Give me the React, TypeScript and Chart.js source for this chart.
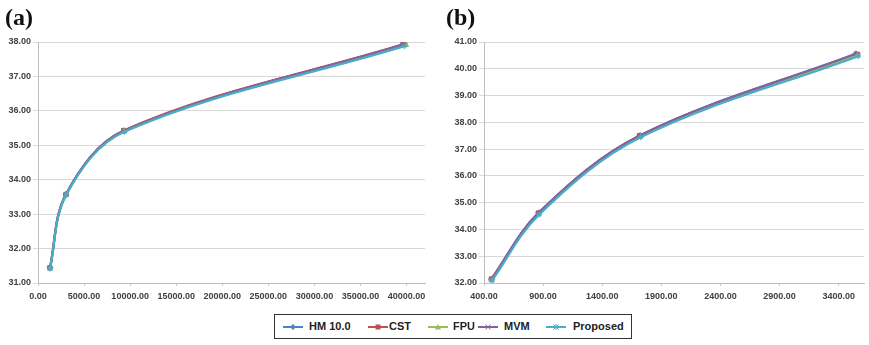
import React, { useEffect, useRef } from "react";
import { Chart, registerables } from "chart.js";

Chart.register(...registerables);

// ---------- data ----------
const seriesNames = ["HM 10.0", "CST", "FPU", "MVM", "Proposed"];
const seriesColors = ["#4F81BD", "#C0504D", "#9BBB59", "#8064A2", "#4BACC6"];
const seriesMarkers = ["rectRot", "rect", "triangle", "crossRot", "star"];

// panel (a): bitrate (x) / PSNR (y)
const aHM_x = [1300, 3040, 9350, 39780];
const aHM_y = [31.44, 33.58, 35.42, 37.94];
const aCST_x = [1290, 3030, 9300, 39600];
const aCST_y = [31.44, 33.57, 35.43, 37.93];
const aFPU_x = [1310, 3050, 9380, 39950];
const aFPU_y = [31.43, 33.56, 35.41, 37.91];
const aMVM_x = [1300, 3040, 9350, 39780];
const aMVM_y = [31.44, 33.58, 35.42, 37.93];
const aPro_x = [1305, 3045, 9360, 39750];
const aPro_y = [31.42, 33.55, 35.39, 37.88];

// panel (b)
const bHM_x = [464, 862, 1720, 3545];
const bHM_y = [32.14, 34.62, 37.51, 40.56];
const bCST_x = [462, 860, 1715, 3560];
const bCST_y = [32.15, 34.61, 37.5, 40.54];
const bFPU_x = [464, 862, 1722, 3555];
const bFPU_y = [32.12, 34.58, 37.47, 40.5];
const bMVM_x = [464, 862, 1720, 3545];
const bMVM_y = [32.14, 34.62, 37.51, 40.56];
const bPro_x = [466, 866, 1725, 3565];
const bPro_y = [32.08, 34.55, 37.44, 40.47];

const aXTicks = [0, 5000, 10000, 15000, 20000, 25000, 30000, 35000, 40000];
const aYTicks = [31, 32, 33, 34, 35, 36, 37, 38];
const bXTicks = [400, 900, 1400, 1900, 2400, 2900, 3400];
const bYTicks = [32, 33, 34, 35, 36, 37, 38, 39, 40, 41];

const aSeries = [
  [aHM_x, aHM_y],
  [aCST_x, aCST_y],
  [aFPU_x, aFPU_y],
  [aMVM_x, aMVM_y],
  [aPro_x, aPro_y],
];
const bSeries = [
  [bHM_x, bHM_y],
  [bCST_x, bCST_y],
  [bFPU_x, bFPU_y],
  [bMVM_x, bMVM_y],
  [bPro_x, bPro_y],
];

const tickFont = { family: "'Liberation Sans', Arial, sans-serif", size: 9, weight: "bold" as const };

function buildConfig(
  series: number[][][],
  xTicks: number[],
  yTicks: number[],
  xMin: number,
  xMax: number,
  yAxisWidth: number,
  xDecimals: number,
  padRight: number
) {
  const datasets = series.map(([xs, ys], i) => ({
    label: seriesNames[i],
    data: xs.map((x, j) => ({ x, y: ys[j] })),
    showLine: true,
    borderColor: seriesColors[i],
    backgroundColor: seriesColors[i],
    borderWidth: 2.2,
    pointStyle: seriesMarkers[i],
    pointRadius: 3,
    pointBorderColor: seriesColors[i],
    pointBackgroundColor: seriesColors[i],
    pointBorderWidth: 1,
    tension: 0.35,
    order: series.length - i,
  }));
  return {
    type: "scatter" as const,
    data: { datasets },
    options: {
      animation: false,
      responsive: false,
      maintainAspectRatio: false,
      layout: { padding: { top: 42, left: 0, right: padRight, bottom: 0 } },
      plugins: { legend: { display: false }, tooltip: { enabled: false } },
      scales: {
        x: {
          type: "linear",
          min: xMin,
          max: xMax,
          afterBuildTicks: (scale: any) => {
            scale.ticks = xTicks.map((v) => ({ value: v }));
          },
          afterFit: (scale: any) => {
            scale.height = 27;
          },
          ticks: {
            font: tickFont,
            color: "#404040",
            padding: 5,
            maxRotation: 0,
            autoSkip: false,
            callback: (v: any) => Number(v).toFixed(xDecimals),
          },
          grid: { display: true, drawOnChartArea: false, drawTicks: true, tickLength: 3, color: "#c8c8c8" },
          border: { display: true, color: "#bfbfbf", width: 1 },
        },
        y: {
          type: "linear",
          min: yTicks[0],
          max: yTicks[yTicks.length - 1],
          afterBuildTicks: (scale: any) => {
            scale.ticks = yTicks.map((v) => ({ value: v }));
          },
          afterFit: (scale: any) => {
            scale.width = yAxisWidth;
          },
          ticks: {
            font: tickFont,
            color: "#404040",
            padding: 2,
            autoSkip: false,
            callback: (v: any) => Number(v).toFixed(2),
          },
          grid: { color: "#d9d9d9", lineWidth: 1, tickLength: 5, drawTicks: true },
          border: { display: true, color: "#bfbfbf", width: 1 },
        },
      },
    },
  };
}

function Panel(props: { config: any; left: number; width: number; height: number }) {
  const ref = useRef<HTMLCanvasElement | null>(null);
  useEffect(() => {
    if (!ref.current) return;
    const chart = new Chart(ref.current, props.config);
    return () => chart.destroy();
  }, []);
  return (
    <canvas
      ref={ref}
      width={props.width}
      height={props.height}
      style={{ position: "absolute", left: props.left, top: 0, width: props.width, height: props.height }}
    />
  );
}

function Marker(props: { kind: string; color: string }) {
  const c = props.color;
  const cx = 10;
  const cy = 5;
  let shape: any = null;
  if (props.kind === "rectRot") shape = <polygon points={`${cx},${cy - 3} ${cx + 3},${cy} ${cx},${cy + 3} ${cx - 3},${cy}`} fill={c} />;
  else if (props.kind === "rect") shape = <rect x={cx - 2.5} y={cy - 2.5} width={5} height={5} fill={c} />;
  else if (props.kind === "triangle") shape = <polygon points={`${cx},${cy - 3} ${cx + 3},${cy + 2.5} ${cx - 3},${cy + 2.5}`} fill={c} />;
  else if (props.kind === "crossRot")
    shape = (
      <g stroke={c} strokeWidth={1}>
        <line x1={cx - 2.5} y1={cy - 2.5} x2={cx + 2.5} y2={cy + 2.5} />
        <line x1={cx - 2.5} y1={cy + 2.5} x2={cx + 2.5} y2={cy - 2.5} />
      </g>
    );
  else
    shape = (
      <g stroke={c} strokeWidth={1}>
        <line x1={cx - 2.5} y1={cy - 2.5} x2={cx + 2.5} y2={cy + 2.5} />
        <line x1={cx - 2.5} y1={cy + 2.5} x2={cx + 2.5} y2={cy - 2.5} />
        <line x1={cx} y1={cy - 3} x2={cx} y2={cy + 3} />
      </g>
    );
  return (
    <svg width={20} height={10} style={{ position: "absolute", left: 0, top: 7 }}>
      <line x1={0} y1={5} x2={20} y2={5} stroke={c} strokeWidth={2} />
      {shape}
    </svg>
  );
}

const legendLineX = [8, 93, 153, 203, 271];
const legendTextX = [34, 114, 178, 229, 298];

export default function App() {
  const cfgA = buildConfig(aSeries, aXTicks, aYTicks, 0, 42000, 38, 2, 7);
  const cfgB = buildConfig(bSeries, bXTicks, bYTicks, 400, 3614, 44, 2, 0);
  return (
    <div
      style={{
        position: "fixed",
        left: 0,
        top: 0,
        width: 869,
        height: 345,
        background: "#ffffff",
        overflow: "hidden",
      }}
    >
      <Panel config={cfgA} left={0} width={432} height={310} />
      <Panel config={cfgB} left={440} width={429} height={310} />
      <div
        style={{
          position: "absolute",
          left: 5,
          top: 4,
          fontFamily: "'Liberation Serif', 'Times New Roman', serif",
          fontWeight: "bold",
          fontSize: 24,
          lineHeight: "26px",
          color: "#111",
        }}
      >
        (a)
      </div>
      <div
        style={{
          position: "absolute",
          left: 446,
          top: 4,
          fontFamily: "'Liberation Serif', 'Times New Roman', serif",
          fontWeight: "bold",
          fontSize: 24,
          lineHeight: "26px",
          color: "#111",
        }}
      >
        (b)
      </div>
      <div
        style={{
          position: "absolute",
          left: 274,
          top: 314,
          width: 356,
          height: 23,
          border: "1px solid #333",
          boxSizing: "content-box",
        }}
      >
        {seriesNames.map((name, i) => (
          <React.Fragment key={name}>
            <div style={{ position: "absolute", left: legendLineX[i], top: 0, width: 20, height: 23 }}>
              <Marker kind={seriesMarkers[i]} color={seriesColors[i]} />
            </div>
            <span
              style={{
                position: "absolute",
                left: legendTextX[i],
                top: 4,
                whiteSpace: "nowrap",
                fontFamily: "'Liberation Sans', Arial, sans-serif",
                fontWeight: "bold",
                fontSize: 11,
                lineHeight: "14px",
                color: "#222",
              }}
            >
              {name}
            </span>
          </React.Fragment>
        ))}
      </div>
    </div>
  );
}
